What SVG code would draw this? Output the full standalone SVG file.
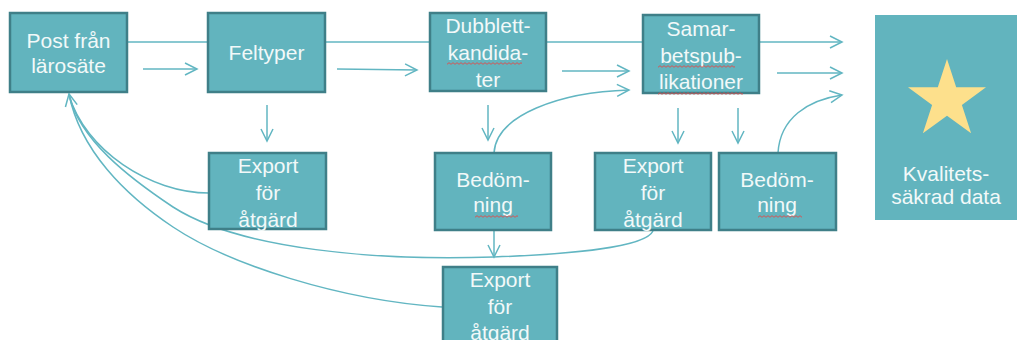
<svg xmlns="http://www.w3.org/2000/svg" width="1020" height="340" viewBox="0 0 1020 340">
<style>
.box{fill:#62b4be;stroke:#3f7f88;stroke-width:2.5}
.plain{fill:#62b4be}
.t{font-family:"Liberation Sans",Arial,sans-serif;font-size:21px;fill:#f2f9f9;text-anchor:middle}
.c{fill:none;stroke:#62b6c2;stroke-width:1.5}
.ar{marker-end:url(#ah)}
</style>
<defs>
<marker id="ah" markerUnits="userSpaceOnUse" markerWidth="16" markerHeight="16" refX="13" refY="7" orient="auto" viewBox="0 0 16 14">
<path d="M1,1 L13,7 L1,13" fill="none" stroke="#62b6c2" stroke-width="1.5"/>
</marker>
<pattern id="sq" width="4" height="3" patternUnits="userSpaceOnUse">
<path d="M0,2.3 L2,0.7 L4,2.3" fill="none" stroke="#e04a4a" stroke-width="0.9"/>
</pattern>
</defs>
<rect width="1020" height="340" fill="#ffffff"/>
<g id="connectors">
<path class="c ar" d="M127,42 L842,42"/>
<path class="c ar" d="M143,69 L197,69"/>
<path class="c ar" d="M337,69 L417,70"/>
<path class="c ar" d="M562,71 L629,71"/>
<path class="c ar" d="M777,73 L842,73"/>
<path class="c ar" d="M494,153 C496,115 560,92 629,90"/>
<path class="c ar" d="M778,153 C780,118 808,100 842,95"/>
<path class="c ar" d="M267,105 L267,141"/>
<path class="c ar" d="M488,105 L488,140"/>
<path class="c ar" d="M678,108 L678,143"/>
<path class="c ar" d="M738,108 L738,143"/>
<path class="c ar" d="M494,230 L494,257"/>
<path class="c" d="M209,193 C150,193 85,150 69,95"/>
<path class="c" d="M653,231 C645,248 570,254 494,257 C380,261 240,250 173,207 C128,177 80,140 69,95"/>
<path class="c ar" d="M442,307 C340,300 230,265 173,227 C125,195 80,150 69,94"/>
</g>
<g id="n-post"><rect class="box" x="10" y="13" width="117" height="79"/><text class="t" x="68.5" y="48">Post från</text><text class="t" x="68.5" y="73">lärosäte</text></g>
<g id="n-feltyper"><rect class="box" x="208" y="13" width="117" height="79"/><text class="t" x="266.5" y="60">Feltyper</text></g>
<g id="n-dubblett"><rect class="box" x="430" y="13" width="116" height="78"/><text class="t" x="488" y="33">Dubblett-</text><text class="t" x="488" y="60">kandida-</text><text class="t" x="488" y="87">ter</text><rect transform="translate(447,62)" width="75" height="3" fill="url(#sq)"/></g>
<g id="n-samar"><rect class="box" x="643" y="15" width="116" height="78"/><text class="t" x="701" y="36">Samar-</text><text class="t" x="701" y="63">betspub-</text><text class="t" x="701" y="89">likationer</text><rect transform="translate(658,65)" width="77" height="3" fill="url(#sq)"/><rect transform="translate(658,92)" width="85" height="3" fill="url(#sq)"/></g>
<g id="n-export1"><rect class="box" x="209" y="153" width="117" height="76"/><text class="t" x="268" y="173">Export</text><text class="t" x="268" y="200">för</text><text class="t" x="268" y="227">åtgärd</text></g>
<g id="n-bedomning1"><rect class="box" x="435" y="153" width="116" height="77"/><text class="t" x="493" y="187">Bedöm-</text><text class="t" x="493" y="212">ning</text><rect transform="translate(475,215)" width="43" height="3" fill="url(#sq)"/></g>
<g id="n-export2"><rect class="box" x="595" y="153" width="116" height="77"/><text class="t" x="653" y="173">Export</text><text class="t" x="653" y="200">för</text><text class="t" x="653" y="227">åtgärd</text></g>
<g id="n-bedomning2"><rect class="box" x="719" y="153" width="117" height="77"/><text class="t" x="777" y="187">Bedöm-</text><text class="t" x="777" y="212">ning</text><rect transform="translate(758,215)" width="44" height="3" fill="url(#sq)"/></g>
<g id="n-export3"><rect class="box" x="443" y="267" width="114" height="80"/><text class="t" x="500" y="287">Export</text><text class="t" x="500" y="314">för</text><text class="t" x="500" y="340">åtgärd</text></g>
<g id="n-kvalitet"><rect class="plain" x="875" y="15" width="142" height="205"/><polygon points="947,59 956.2,87.3 986,87.3 961.9,104.9 971.1,133.2 947,115.7 922.9,133.2 932.1,104.9 908,87.3 937.8,87.3" fill="#fde08c"/><text class="t" x="946" y="181">Kvalitets-</text><text class="t" x="946" y="204">säkrad data</text></g>
</svg>
